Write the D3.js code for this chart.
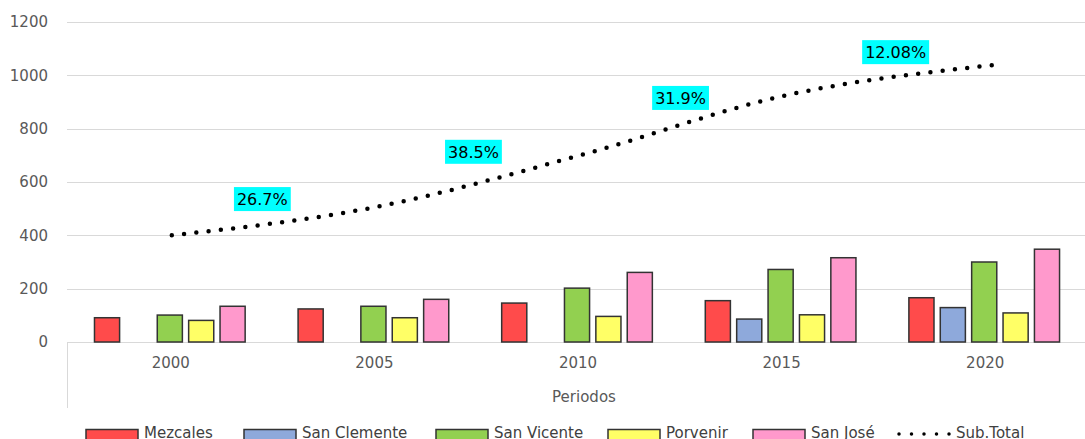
<!DOCTYPE html>
<html>
<head>
<meta charset="utf-8">
<script src="https://cdn.jsdelivr.net/npm/d3@7"></script>
<style>
  body { margin: 0; background: #fff; }
  svg { display: block; font-family: "DejaVu Sans", Verdana, sans-serif; }
</style>
</head>
<body>
<svg id="chart" width="1085" height="439"></svg>
<script>
// data
const periods = ["2000", "2005", "2010", "2015", "2020"];
const seriesNames = ["Mezcales", "San Clemente", "San Vicente", "Porvenir", "San José"];
const mezcales    = [91, 124, 146, 155, 166];
const sanClemente = [null, null, null, 86, 129];
const sanVicente  = [101, 134, 202, 272, 300];
const porvenir    = [81, 91, 96, 102, 109];
const sanJose     = [134, 160, 261, 316, 348];
const subTotal    = [400, 507, 702, 926, 1038];
const growthLabels = ["26.7%", "38.5%", "31.9%", "12.08%"];
const yTicks = [0, 200, 400, 600, 800, 1000, 1200];

const seriesValues = [mezcales, sanClemente, sanVicente, porvenir, sanJose];
const colors = ["#FF4B4B", "#8EA9DB", "#92D050", "#FFFF66", "#FF99CC"];

const svg = d3.select("#chart");
const plotLeft = 67, plotRight = 1085, plotTop = 22, plotBottom = 342;

const y = d3.scaleLinear().domain([0, 1200]).range([plotBottom, plotTop]);
const x0 = d3.scaleBand().domain(periods).range([plotLeft, plotRight]).padding(0);
const bw = x0.bandwidth();
const x1 = d3.scaleBand().domain(seriesNames).range([bw * 0.135, bw * 0.875]).paddingInner(0.2);

// gridlines + tick labels
svg.append("g").selectAll("line").data(yTicks).enter().append("line")
  .attr("x1", plotLeft).attr("x2", plotRight)
  .attr("y1", d => Math.round(y(d)) + 0.5).attr("y2", d => Math.round(y(d)) + 0.5)
  .attr("stroke", "#d9d9d9").attr("stroke-width", 1);

svg.append("g").selectAll("text").data(yTicks).enter().append("text")
  .attr("x", 48).attr("y", d => y(d)).attr("dy", "0.35em")
  .attr("text-anchor", "end").attr("font-size", 15).attr("fill", "#595959")
  .text(d => d);

// category axis box (left edge)
svg.append("line").attr("x1", plotLeft + 0.5).attr("x2", plotLeft + 0.5)
  .attr("y1", plotBottom).attr("y2", 408).attr("stroke", "#d9d9d9");

svg.append("g").selectAll("text").data(periods).enter().append("text")
  .attr("x", d => x0(d) + bw / 2 + 2).attr("y", 363).attr("dy", "0.35em")
  .attr("text-anchor", "middle").attr("font-size", 15).attr("fill", "#595959")
  .text(d => d);

svg.append("text").attr("x", 584).attr("y", 397).attr("dy", "0.35em")
  .attr("text-anchor", "middle").attr("font-size", 15).attr("fill", "#595959")
  .text("Periodos");

// bars
const barData = [];
periods.forEach((p, i) => {
  seriesNames.forEach((s, j) => {
    const v = seriesValues[j][i];
    if (v != null) barData.push({ period: p, series: s, value: v, color: colors[j] });
  });
});

svg.append("g").selectAll("rect").data(barData).enter().append("rect")
  .attr("x", d => x0(d.period) + x1(d.series))
  .attr("y", d => y(d.value))
  .attr("width", x1.bandwidth())
  .attr("height", d => y(0) - y(d.value))
  .attr("fill", d => d.color)
  .attr("stroke", "#333").attr("stroke-width", 1.5);

// sub total dotted line (dot spacing fitted so the last dot sits on the end)
const linePts = periods.map((p, i) => [x0(p) + bw / 2 + 3 + i * 1.5, y(subTotal[i])]);
const line = d3.line().curve(d3.curveMonotoneX);
const path = svg.append("path").attr("d", line(linePts))
  .attr("fill", "none").attr("stroke", "#000").attr("stroke-width", 4.5)
  .attr("stroke-linecap", "round");
const len = path.node().getTotalLength();
const gap = (len - 0.5) / Math.round(len / 12.3);
path.attr("stroke-dasharray", `0 ${gap}`);

// growth labels
const labelNudge = [[-12, 5], [-6, -2], [-4, 0], [6, -1]];
growthLabels.forEach((t, i) => {
  const cx = (linePts[i][0] + linePts[i + 1][0]) / 2 + labelNudge[i][0];
  const cy = (linePts[i][1] + linePts[i + 1][1]) / 2 - 27 + labelNudge[i][1];
  const g = svg.append("g");
  const txt = g.append("text").attr("x", cx).attr("y", cy).attr("dy", "0.36em")
    .attr("text-anchor", "middle").attr("font-size", 16).attr("fill", "#000").text(t);
  const w = txt.node().getComputedTextLength();
  g.insert("rect", "text").attr("x", cx - w / 2 - 3).attr("y", cy - 12)
    .attr("width", w + 6).attr("height", 24).attr("fill", "#00FFFF");
});

// legend
const legendX = [86, 244, 436, 608, 753];
const legend = svg.append("g");
seriesNames.forEach((s, j) => {
  legend.append("rect").attr("x", legendX[j]).attr("y", 429.5)
    .attr("width", 52).attr("height", 12)
    .attr("fill", colors[j]).attr("stroke", "#333").attr("stroke-width", 1.5);
  legend.append("text").attr("x", legendX[j] + 58).attr("y", 433).attr("dy", "0.35em")
    .attr("font-size", 15).attr("fill", "#404040").text(s);
});
legend.append("line").attr("x1", 899).attr("x2", 950.5).attr("y1", 434).attr("y2", 434)
  .attr("stroke", "#000").attr("stroke-width", 3.5)
  .attr("stroke-linecap", "round").attr("stroke-dasharray", "0 12.5");
legend.append("text").attr("x", 956).attr("y", 433).attr("dy", "0.35em")
  .attr("font-size", 15).attr("fill", "#404040").text("Sub.Total");
</script>
</body>
</html>
